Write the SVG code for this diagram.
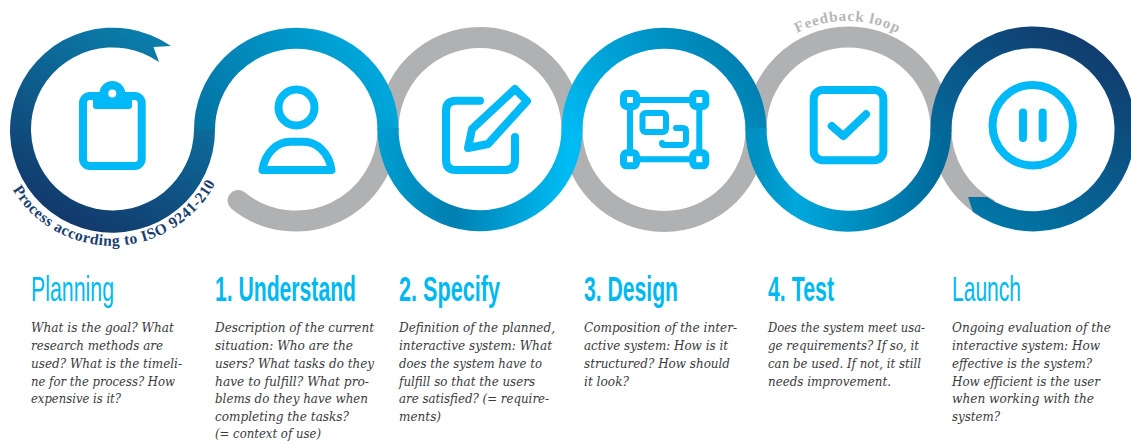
<svg xmlns="http://www.w3.org/2000/svg" width="1131" height="441" viewBox="0 0 1131 441">
<style>
.grey{fill:none;stroke:#b0b1b3;stroke-width:21}
.band{fill:none;stroke-width:21}
.ico{fill:none;stroke:#00b9f6;stroke-width:8;stroke-linecap:round;stroke-linejoin:round}
.icf{fill:#00b9f6}
.h{font-family:"Liberation Sans Narrow","Liberation Sans",Arial,sans-serif;font-size:34.5px;fill:#00b9f2}
.hb{font-weight:bold}
.b{font-family:"DejaVu Serif","Liberation Serif",serif;font-style:italic;font-size:13.2px;fill:#3a3a3c}
.arc{font-family:"Liberation Serif","Times New Roman",serif;font-weight:bold}
</style>
<defs>
<linearGradient id="gA" gradientUnits="userSpaceOnUse" x1="170" y1="40" x2="70" y2="225"><stop offset="0" stop-color="#0a80ad"/><stop offset="1" stop-color="#12386b"/></linearGradient>
<linearGradient id="gB" gradientUnits="userSpaceOnUse" x1="204" y1="150" x2="360" y2="50"><stop offset="0" stop-color="#04709f"/><stop offset="1" stop-color="#00a6da"/></linearGradient>
<linearGradient id="gC" gradientUnits="userSpaceOnUse" x1="388" y1="100" x2="572" y2="120"><stop offset="0" stop-color="#009ccf"/><stop offset=".42" stop-color="#007fb0"/><stop offset="1" stop-color="#00bbf3"/></linearGradient>
<linearGradient id="gD" gradientUnits="userSpaceOnUse" x1="572" y1="140" x2="730" y2="40"><stop offset="0" stop-color="#00baf2"/><stop offset=".85" stop-color="#0088ba"/><stop offset="1" stop-color="#007fb0"/></linearGradient>
<linearGradient id="gE" gradientUnits="userSpaceOnUse" x1="756" y1="150" x2="941" y2="150"><stop offset="0" stop-color="#0090c2"/><stop offset=".22" stop-color="#00a8dc"/><stop offset="1" stop-color="#00699a"/></linearGradient>
<linearGradient id="gF" gradientUnits="userSpaceOnUse" x1="1090" y1="35" x2="970" y2="215"><stop offset="0" stop-color="#123a6c"/><stop offset="1" stop-color="#0078a8"/></linearGradient>
<path id="arcP" d="M12.5 189.5A116.5 116.5 0 0 0 215 184"/>
<path id="arcF" d="M797 33A109 109 0 0 1 897 33"/>
</defs>
<g id="connectors">
<path class="grey" d="M388 129.5A92 92 0 0 1 238 200.5" stroke-linecap="round"/>
<path class="grey" d="M388 129.5A92 92 0 0 1 572 129.5"/>
<path class="grey" d="M572 129.5A92 92 0 0 0 756 129.5"/>
<path class="grey" d="M756 129.5A92 92 0 0 1 941 129.5"/>
<path class="grey" d="M941 129.5A92 92 0 0 0 990 210"/>
<path class="band" d="M204.5 130A91.75 91.75 0 0 1 388 130" stroke="url(#gB)"/>
<path d="M171 46A102.5 102.5 0 1 0 215 129.5L194 129.5A81.5 81.5 0 1 1 159 62L153.5 47Z" fill="url(#gA)"/>
<path class="band" d="M388 128A92 92 0 0 0 572 129.5" stroke="url(#gC)"/>
<path class="band" d="M572 131A92 92 0 0 1 756 129.5" stroke="url(#gD)"/>
<path class="band" d="M756 128A92.5 92.5 0 0 0 941 129.5" stroke="url(#gE)"/>
<path d="M930.5 131A102.5 102.5 0 1 1 973 212L968 197L987 197A81.5 81.5 0 1 0 951.5 131Z" fill="url(#gF)"/>
</g>
<text class="arc" font-size="15.5" fill="#1a3f6f" textLength="246"><textPath href="#arcP">Process according to ISO 9241-210</textPath></text>
<text class="arc" font-size="15" fill="#b5b6b8" textLength="104"><textPath href="#arcF">Feedback loop</textPath></text>
<g id="planning">
<rect class="ico" x="83" y="96" width="58.7" height="70" rx="7"/>
<rect class="icf" x="93" y="92" width="39" height="17" rx="3"/><circle class="icf" cx="112.3" cy="94" r="13"/><circle cx="112.3" cy="93.5" r="4" fill="#fff"/>
<text class="h" x="31" y="301" textLength="83" lengthAdjust="spacingAndGlyphs">Planning</text>
<text class="b" x="31" y="332" textLength="143" lengthAdjust="spacingAndGlyphs">What is the goal? What</text>
<text class="b" x="31" y="350" textLength="132" lengthAdjust="spacingAndGlyphs">research methods are</text>
<text class="b" x="31" y="367.6" textLength="151" lengthAdjust="spacingAndGlyphs">used? What is the timeli-</text>
<text class="b" x="31" y="385.5" textLength="144" lengthAdjust="spacingAndGlyphs">ne for the process? How</text>
<text class="b" x="31" y="403.4" textLength="90" lengthAdjust="spacingAndGlyphs">expensive is it?</text>
</g>
<g id="understand">
<circle class="ico" cx="296.5" cy="107.5" r="18"/>
<path class="ico" d="M262.5 170C265 152 278 141.7 290 141.7L304 141.7C316 141.7 329 152 331.5 170Z"/>
<text class="h hb" x="215" y="301" textLength="141" lengthAdjust="spacingAndGlyphs">1. Understand</text>
<text class="b" x="215" y="332" textLength="159" lengthAdjust="spacingAndGlyphs">Description of the current</text>
<text class="b" x="215" y="350" textLength="138" lengthAdjust="spacingAndGlyphs">situation: Who are the</text>
<text class="b" x="215" y="367.6" textLength="159" lengthAdjust="spacingAndGlyphs">users? What tasks do they</text>
<text class="b" x="215" y="385.5" textLength="154" lengthAdjust="spacingAndGlyphs">have to fulfill? What pro-</text>
<text class="b" x="215" y="403.4" textLength="153" lengthAdjust="spacingAndGlyphs">blems do they have when</text>
<text class="b" x="215" y="421.2" textLength="134" lengthAdjust="spacingAndGlyphs">completing the tasks?</text>
<text class="b" x="215" y="438" textLength="106" lengthAdjust="spacingAndGlyphs">(= context of use)</text>
</g>
<g id="specify">
<path class="ico" d="M480 100.7L456 100.7Q446 100.7 446 110.7L446 160Q446 170 456 170L505 170Q515 170 515 160L515 137"/>
<path class="ico" d="M515 89L527 101L488 144L468 148L472 129Z"/>
<text class="h hb" x="399" y="301" textLength="101" lengthAdjust="spacingAndGlyphs">2. Specify</text>
<text class="b" x="399" y="332" textLength="156" lengthAdjust="spacingAndGlyphs">Definition of the planned,</text>
<text class="b" x="399" y="350" textLength="153" lengthAdjust="spacingAndGlyphs">interactive system: What</text>
<text class="b" x="399" y="367.6" textLength="143" lengthAdjust="spacingAndGlyphs">does the system have to</text>
<text class="b" x="399" y="385.5" textLength="136" lengthAdjust="spacingAndGlyphs">fulfill so that the users</text>
<text class="b" x="399" y="403.4" textLength="150" lengthAdjust="spacingAndGlyphs">are satisfied? (= require-</text>
<text class="b" x="399" y="421.2" textLength="42" lengthAdjust="spacingAndGlyphs">ments)</text>
</g>
<g id="design">
<path class="ico" style="stroke-width:6" d="M630 100L699.3 100L699.3 159.3L630 159.3Z"/>
<g class="ico" style="stroke-width:7">
<rect x="623.5" y="93.5" width="13" height="13" rx="3" fill="#fff"/><rect x="692.8" y="93.5" width="13" height="13" rx="3" fill="#fff"/><rect x="623.5" y="152.8" width="13" height="13" rx="3" fill="#fff"/><rect x="692.8" y="152.8" width="13" height="13" rx="3" fill="#fff"/>
</g>
<rect class="ico" style="stroke-width:6" x="642.5" y="113" width="23.5" height="19" rx="3"/>
<path class="ico" style="stroke-width:6" d="M676 128L683 128Q686 128 686 131L686 141Q686 145 682 145L664 145Q662 145 662 143"/>
<text class="h hb" x="584" y="301" textLength="94" lengthAdjust="spacingAndGlyphs">3. Design</text>
<text class="b" x="584" y="332" textLength="153" lengthAdjust="spacingAndGlyphs">Composition of the inter-</text>
<text class="b" x="584" y="350" textLength="144" lengthAdjust="spacingAndGlyphs">active system: How is it</text>
<text class="b" x="584" y="367.6" textLength="146" lengthAdjust="spacingAndGlyphs">structured? How should</text>
<text class="b" x="584" y="385.5" textLength="45" lengthAdjust="spacingAndGlyphs">it look?</text>
</g>
<g id="test">
<rect class="ico" x="813.7" y="90" width="69.7" height="70.3" rx="9"/>
<path class="ico" d="M831.7 126L843.3 136L866 114.3"/>
<text class="h hb" x="768" y="301" textLength="66" lengthAdjust="spacingAndGlyphs">4. Test</text>
<text class="b" x="768" y="332" textLength="157" lengthAdjust="spacingAndGlyphs">Does the system meet usa-</text>
<text class="b" x="768" y="350" textLength="151" lengthAdjust="spacingAndGlyphs">ge requirements? If so, it</text>
<text class="b" x="768" y="367.6" textLength="153" lengthAdjust="spacingAndGlyphs">can be used. If not, it still</text>
<text class="b" x="768" y="385.5" textLength="123" lengthAdjust="spacingAndGlyphs">needs improvement.</text>
</g>
<g id="launch">
<circle class="ico" cx="1032.7" cy="125.3" r="40.2"/>
<path class="ico" d="M1023 112.5L1023 138M1042.7 112.5L1042.7 138"/>
<text class="h" x="952" y="301" textLength="69" lengthAdjust="spacingAndGlyphs">Launch</text>
<text class="b" x="952" y="332" textLength="159" lengthAdjust="spacingAndGlyphs">Ongoing evaluation of the</text>
<text class="b" x="952" y="350" textLength="148" lengthAdjust="spacingAndGlyphs">interactive system: How</text>
<text class="b" x="952" y="367.6" textLength="140" lengthAdjust="spacingAndGlyphs">effective is the system?</text>
<text class="b" x="952" y="385.5" textLength="148" lengthAdjust="spacingAndGlyphs">How efficient is the user</text>
<text class="b" x="952" y="403.4" textLength="142" lengthAdjust="spacingAndGlyphs">when working with the</text>
<text class="b" x="952" y="421.2" textLength="48" lengthAdjust="spacingAndGlyphs">system?</text>
</g>
</svg>
